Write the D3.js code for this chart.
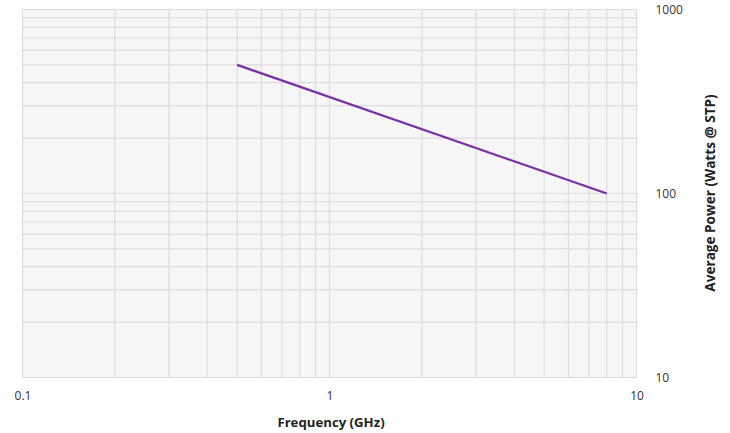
<!DOCTYPE html>
<html>
<head>
<meta charset="utf-8">
<script src="https://cdn.jsdelivr.net/npm/d3@7"></script>
<style>
  html, body { margin: 0; padding: 0; background: #fff; }
  svg { display: block; }
  text { font-family: "Open Sans", "Noto Sans", sans-serif; }
</style>
</head>
<body>
<svg id="chart" width="730" height="433"></svg>
<script>
// Data
const frequencyGHz = [0.5, 8];
const averagePowerW = [500, 100];
const xTickLabels = [0.1, 1, 10];
const yTickLabels = [10, 100, 1000];
const xTitle = "Frequency (GHz)";
const yTitle = "Average Power (Watts @ STP)";

const svg = d3.select("#chart");
const plot = { left: 22.5, right: 636.5, top: 9.5, bottom: 377.5 };

const x = d3.scaleLog().domain([0.1, 10]).range([plot.left, plot.right]);
const y = d3.scaleLog().domain([10, 1000]).range([plot.bottom, plot.top]);

// background
svg.append("rect")
  .attr("x", plot.left).attr("y", plot.top)
  .attr("width", plot.right - plot.left)
  .attr("height", plot.bottom - plot.top)
  .attr("fill", "#f6f6f6");

// grid
const grid = svg.append("g").attr("stroke", "#dcdcdc").attr("stroke-width", 1.2);
grid.selectAll("line.v").data(x.ticks()).join("line")
  .attr("class", "v")
  .attr("x1", d => x(d)).attr("x2", d => x(d))
  .attr("y1", plot.top).attr("y2", plot.bottom);
grid.selectAll("line.h").data(y.ticks()).join("line")
  .attr("class", "h")
  .attr("y1", d => y(d)).attr("y2", d => y(d))
  .attr("x1", plot.left).attr("x2", plot.right);

// x axis labels
const xAxis = d3.axisBottom(x).tickValues(xTickLabels).tickSize(0).tickPadding(14)
  .tickFormat(d3.format("~g"));
const gx = svg.append("g").attr("transform", `translate(0,${plot.bottom})`).call(xAxis);
gx.select(".domain").remove();
gx.selectAll("text").attr("font-size", 12).attr("fill", "#333")
  .style("font-family", '"Open Sans", "Noto Sans", sans-serif');

// y axis labels (right)
const yAxis = d3.axisRight(y).tickValues(yTickLabels).tickSize(0).tickPadding(19)
  .tickFormat(d3.format("~g"));
const gy = svg.append("g").attr("transform", `translate(${plot.right},0)`).call(yAxis);
gy.select(".domain").remove();
gy.selectAll("text").attr("font-size", 12).attr("fill", "#333")
  .style("font-family", '"Open Sans", "Noto Sans", sans-serif');

// titles
svg.append("text")
  .attr("x", 331).attr("y", 427)
  .attr("text-anchor", "middle")
  .attr("font-size", 13.2).attr("font-weight", "bold").attr("fill", "#222")
  .text(xTitle);
svg.append("text")
  .attr("transform", "translate(715,193) rotate(-90)")
  .attr("text-anchor", "middle")
  .attr("font-size", 13.6).attr("font-weight", "bold").attr("fill", "#222")
  .text(yTitle);

// line
const pts = frequencyGHz.map((f, i) => [f, averagePowerW[i]]);
svg.append("path")
  .datum(pts)
  .attr("fill", "none")
  .attr("stroke", "#7a2fa6")
  .attr("stroke-width", 2.2)
  .attr("d", d3.line().x(d => x(d[0])).y(d => y(d[1])));
</script>
</body>
</html>
